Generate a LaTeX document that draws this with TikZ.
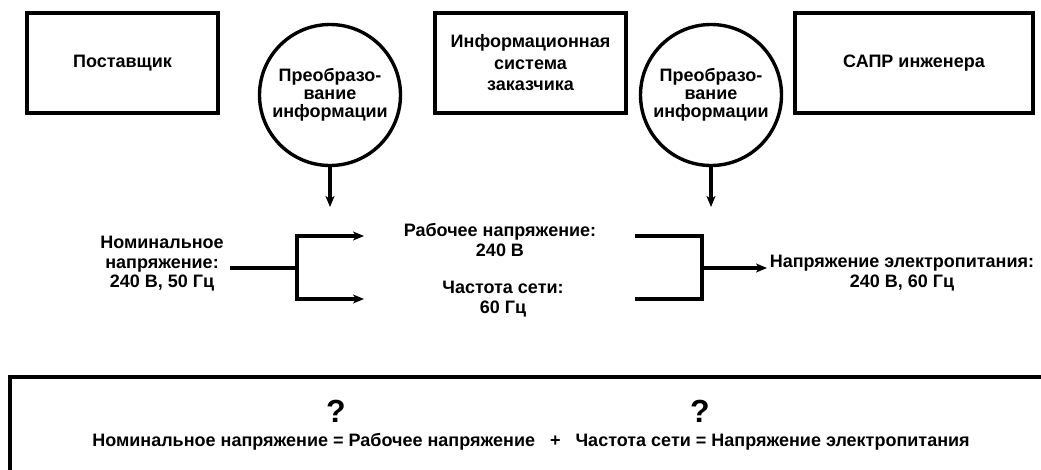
\documentclass[tikz,border=0pt]{standalone}
\usepackage{fontspec}
\setmainfont{Liberation Sans}
\usetikzlibrary{arrows.meta}
\begin{document}
\begin{tikzpicture}[x=1pt,y=-1pt,
  txt/.style={font=\bfseries\fontsize{18}{19.5}\selectfont, align=center, inner sep=0pt},
  boxtxt/.style={font=\bfseries\fontsize{18}{21.5}\selectfont, align=center},
  boxnode/.style={draw, line width=3.4pt, minimum width=191pt, minimum height=100pt, inner sep=0pt},
  circnode/.style={draw, circle, line width=3.4pt, minimum size=141pt, inner sep=0pt, font=\bfseries\fontsize{18}{18}\selectfont, align=center},
  conn/.style={line width=3.2pt},
  arrow/.style={line width=3.2pt, -{Stealth[length=11pt,width=9pt,inset=3pt]}, shorten >=0pt},
  shaft/.style={line width=3.2pt, shorten >=6pt},
  qmark/.style={font=\bfseries\fontsize{32}{36}\selectfont, inner sep=0pt}
]
\useasboundingbox (0,0) rectangle (1041,469);
\clip (0,0) rectangle (1041,469);
\fill[white] (0,0) rectangle (1041,469);

% top row
\node[boxnode, boxtxt] (sup) at (122.5,63) {Поставщик};
\node[circnode] (c1) at (330,95) {Преобразо-\\вание\\информации};
\node[boxnode, boxtxt, minimum width=191pt] (ics) at (530.5,63) {Информационная\\система\\заказчика};
\node[circnode] (c2) at (711,95) {Преобразо-\\вание\\информации};
\node[boxnode, boxtxt, minimum width=238pt] (cad) at (914,63) {САПР инженера};

\coordinate (a1) at (330,207);
\coordinate (a2) at (711,207);
\draw[shaft] (c1.south) -- (a1);
\draw[arrow] (c1.south) -- (a1);
\draw[shaft] (c2.south) -- (a2);
\draw[arrow] (c2.south) -- (a2);

% middle row
\node[txt] (nom) at (162,264) {Номинальное\\напряжение:\\240 В, 50 Гц};
\node[txt] (work) at (500,240) {Рабочее напряжение:\\240 В};
\node[txt] (freq) at (503,299) {Частота сети:\\60 Гц};
\node[txt] (sup2) at (902,273) {Напряжение электропитания:\\240 В, 60 Гц};

\coordinate (s1) at (230,268);
\coordinate (j1) at (297,268);
\coordinate (j1t) at (297,236);
\coordinate (j1b) at (297,299);
\coordinate (e1t) at (364,236);
\coordinate (e1b) at (364,299);
\draw[conn] (s1) -- (j1);
\draw[conn] (j1t) -- (j1b);
\draw[shaft] ([xshift=-1.6pt]j1t) -- (e1t);
\draw[arrow] ([xshift=-1.6pt]j1t) -- (e1t);
\draw[shaft] ([xshift=-1.6pt]j1b) -- (e1b);
\draw[arrow] ([xshift=-1.6pt]j1b) -- (e1b);

\coordinate (r1t) at (635,236);
\coordinate (r1b) at (635,299);
\coordinate (j2t) at (702,236);
\coordinate (j2b) at (702,299);
\coordinate (j2) at (702,268);
\coordinate (e2) at (767,268);
\draw[conn, line join=miter] (r1t) -- (j2t) -- (j2b) -- (r1b);
\draw[shaft] (j2) -- (e2);
\draw[arrow] (j2) -- (e2);

% bottom box
\draw[line width=3.4pt] (1060,377) -- (10,377) -- (10,490);
\node[qmark] (q1) at (336,411) {?};
\node[qmark] (q2) at (700,411) {?};
\node[txt] (eq) at (531,442) {Номинальное напряжение = Рабочее напряжение \ \ + \ \ Частота сети = Напряжение электропитания};
\end{tikzpicture}
\end{document}
